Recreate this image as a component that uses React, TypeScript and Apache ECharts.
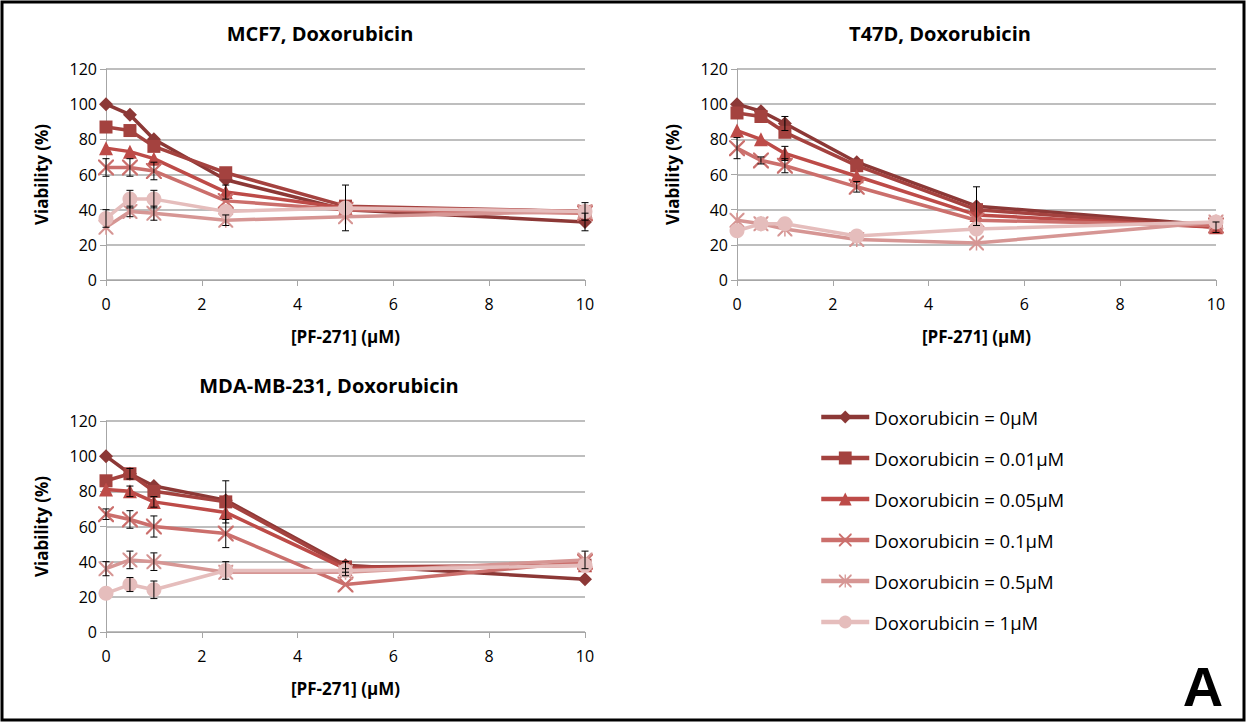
import React, { useEffect, useRef } from "react";
import * as echarts from "echarts";

const doses = [0, 0.5, 1, 2.5, 5, 10];
const seriesNames = [
  "Doxorubicin = 0µM",
  "Doxorubicin = 0.01µM",
  "Doxorubicin = 0.05µM",
  "Doxorubicin = 0.1µM",
  "Doxorubicin = 0.5µM",
  "Doxorubicin = 1µM",
];
const panelTitles = ["MCF7, Doxorubicin", "T47D, Doxorubicin", "MDA-MB-231, Doxorubicin"];
const yTicks = [0, 20, 40, 60, 80, 100, 120];
const xTicks = [0, 2, 4, 6, 8, 10];

const mcf7Values = [
  [100, 94, 80, 57, 40, 33],
  [87, 85, 76, 61, 42, 39],
  [75, 73, 69, 50, 41, 39],
  [64, 64, 62, 45, 40, 38],
  [30, 39, 38, 34, 36, 39],
  [35, 46, 46, 39, 41, 39],
];
const mcf7Errors = [
  [0, 0, 0, 0, 0, 5],
  [0, 0, 0, 0, 0, 0],
  [0, 0, 0, 4, 0, 0],
  [5, 5, 5, 0, 0, 0],
  [0, 3, 4, 3, 0, 0],
  [5, 5, 5, 0, 13, 5],
];
const t47dValues = [
  [100, 96, 89, 67, 42, 31],
  [95, 93, 84, 65, 40, 30],
  [85, 80, 72, 59, 37, 30],
  [75, 68, 65, 53, 34, 31],
  [34, 32, 29, 23, 21, 33],
  [28, 32, 32, 25, 29, 33],
];
const t47dErrors = [
  [0, 0, 4, 0, 11, 0],
  [0, 0, 0, 0, 0, 3],
  [0, 0, 4, 0, 0, 0],
  [6, 2, 4, 3, 0, 0],
  [0, 0, 0, 0, 0, 0],
  [0, 0, 0, 0, 0, 0],
];
const mdaValues = [
  [100, 90, 83, 75, 38, 30],
  [86, 90, 80, 74, 37, 38],
  [81, 80, 74, 68, 36, 38],
  [67, 64, 60, 56, 27, 40],
  [36, 41, 40, 34, 34, 41],
  [22, 27, 24, 35, 35, 38],
];
const mdaErrors = [
  [0, 0, 0, 0, 0, 0],
  [0, 3, 0, 12, 3, 0],
  [0, 3, 3, 0, 0, 0],
  [3, 5, 6, 8, 0, 0],
  [4, 5, 5, 0, 2, 5],
  [0, 4, 5, 5, 0, 0],
];

const colors = ["#8C3836", "#A4423F", "#BD4B48", "#CB6F6C", "#D69694", "#E5BDBC"];
const xPath =
  "path://M0,0 L2,0 L10,8 L18,0 L20,0 L20,2 L12,10 L20,18 L20,20 L18,20 L10,12 L2,20 L0,20 L0,18 L8,10 L0,2 Z";
const starPath =
  "path://M0,0 L2,0 L10,8 L18,0 L20,0 L20,2 L12,10 L20,18 L20,20 L18,20 L10,12 L2,20 L0,20 L0,18 L8,10 L0,2 Z M9,0 L11,0 L11,20 L9,20 Z";
const symbols = ["diamond", "rect", "triangle", xPath, starPath, "circle"];
const symbolSizes = [14, 13, 14, 16, 15, 15];

const FONT = "'Open Sans', 'Noto Sans', sans-serif";

export default function App() {
  const ref = useRef<HTMLDivElement>(null);
  useEffect(() => {
    if (!ref.current) return;
    const chart = echarts.init(ref.current, undefined, { renderer: "svg" });
    const panels = [
      { values: mcf7Values, errors: mcf7Errors },
      { values: t47dValues, errors: t47dErrors },
      { values: mdaValues, errors: mdaErrors },
    ];
    const grids = [
      { left: 106, top: 69, width: 479, height: 211 },
      { left: 737, top: 69, width: 479, height: 211 },
      { left: 106, top: 421, width: 479, height: 211 },
    ];
    const titlePos = [
      { x: 315, y: 18 },
      { x: 935, y: 18 },
      { x: 324, y: 370 },
    ];
    const series: any[] = [];
    panels.forEach((p, gi) => {
      p.values.forEach((vals, si) => {
        series.push({
          type: "line",
          name: seriesNames[si],
          xAxisIndex: gi,
          yAxisIndex: gi,
          data: doses.map((d, i) => [d, vals[i]]),
          symbol: symbols[si],
          symbolSize: symbolSizes[si],
          showAllSymbol: true,
          lineStyle: { color: colors[si], width: 3.5 },
          itemStyle: { color: colors[si] },
          z: 2 + si * 0.01,
        });
      });
      const errData: number[][] = [];
      p.values.forEach((vals, si) => {
        vals.forEach((v, i) => {
          const e = p.errors[si][i];
          if (e > 0) errData.push([doses[i], v - e, v + e]);
        });
      });
      series.push({
        type: "custom",
        name: "err" + gi,
        xAxisIndex: gi,
        yAxisIndex: gi,
        z: 3,
        silent: true,
        encode: { x: 0, y: [1, 2] },
        data: errData,
        renderItem: (params: any, api: any) => {
          const x = api.value(0);
          const hi = api.coord([x, api.value(2)]);
          const lo = api.coord([x, api.value(1)]);
          const c = 3.5;
          const st = { stroke: "#000", lineWidth: 1 };
          return {
            type: "group",
            children: [
              { type: "line", shape: { x1: hi[0], y1: hi[1], x2: lo[0], y2: lo[1] }, style: st },
              { type: "line", shape: { x1: hi[0] - c, y1: hi[1], x2: hi[0] + c, y2: hi[1] }, style: st },
              { type: "line", shape: { x1: lo[0] - c, y1: lo[1], x2: lo[0] + c, y2: lo[1] }, style: st },
            ],
          };
        },
      });
    });

    const option: any = {
      animation: false,
      backgroundColor: "#fff",
      textStyle: { fontFamily: FONT },
      title: panelTitles.map((t, i) => ({
        text: t,
        left: titlePos[i].x,
        top: titlePos[i].y,
        textAlign: "center",
        textStyle: { fontFamily: FONT, fontWeight: "bold", fontSize: 20, color: "#000" },
      })),
      grid: grids.map((g) => ({ ...g, containLabel: false })),
      xAxis: grids.map((_, i) => ({
        type: "value",
        gridIndex: i,
        min: xTicks[0],
        max: xTicks[xTicks.length - 1],
        interval: 2,
        name: "[PF-271] (µM)",
        nameLocation: "middle",
        nameGap: 48,
        nameTextStyle: { fontFamily: FONT, fontWeight: "bold", fontSize: 17, color: "#000" },
        axisLine: { show: true, lineStyle: { color: "#A6A6A6", width: 1 } },
        axisTick: { show: true, length: 6, lineStyle: { color: "#A6A6A6" } },
        axisLabel: { fontFamily: FONT, fontSize: 16, color: "#000", margin: 16 },
        splitLine: { show: false },
      })),
      yAxis: grids.map((_, i) => ({
        type: "value",
        gridIndex: i,
        min: yTicks[0],
        max: yTicks[yTicks.length - 1],
        interval: 20,
        name: "Viability (%)",
        nameLocation: "middle",
        nameGap: 56,
        nameTextStyle: { fontFamily: FONT, fontWeight: "bold", fontSize: 17, color: "#000" },
        axisLine: { show: true, lineStyle: { color: "#A6A6A6", width: 1 } },
        axisTick: { show: true, length: 6, lineStyle: { color: "#A6A6A6" } },
        axisLabel: { fontFamily: FONT, fontSize: 16, color: "#000", margin: 9 },
        splitLine: { show: true, lineStyle: { color: "#A8A8A8", width: 1.5 } },
      })),
      legend: {
        data: seriesNames,
        orient: "vertical",
        left: 814,
        top: 402,
        itemWidth: 48,
        itemHeight: 16,
        itemGap: 21,
        lineStyle: { width: 4.5 },
        textStyle: { fontFamily: FONT, fontSize: 18.5, color: "#000", lineHeight: 20 },
        selectedMode: false,
      },
      graphic: [
        {
          type: "rect",
          shape: { x: 2, y: 2, width: 1242, height: 718 },
          style: { fill: "none", stroke: "#000", lineWidth: 3 },
          silent: true,
        },
        {
          type: "text",
          x: 1203,
          y: 686,
          style: {
            text: "A",
            fontFamily: "'Liberation Sans', Arial, sans-serif",
            fontWeight: "bold",
            fontSize: 56,
            fill: "#000",
            textAlign: "center",
            textVerticalAlign: "middle",
          },
        },
      ],
      series,
    };
    chart.setOption(option);
    return () => chart.dispose();
  }, []);
  return (
    <div
      ref={ref}
      style={{ position: "fixed", left: 0, top: 0, width: 1247, height: 723, background: "#fff" }}
    />
  );
}
